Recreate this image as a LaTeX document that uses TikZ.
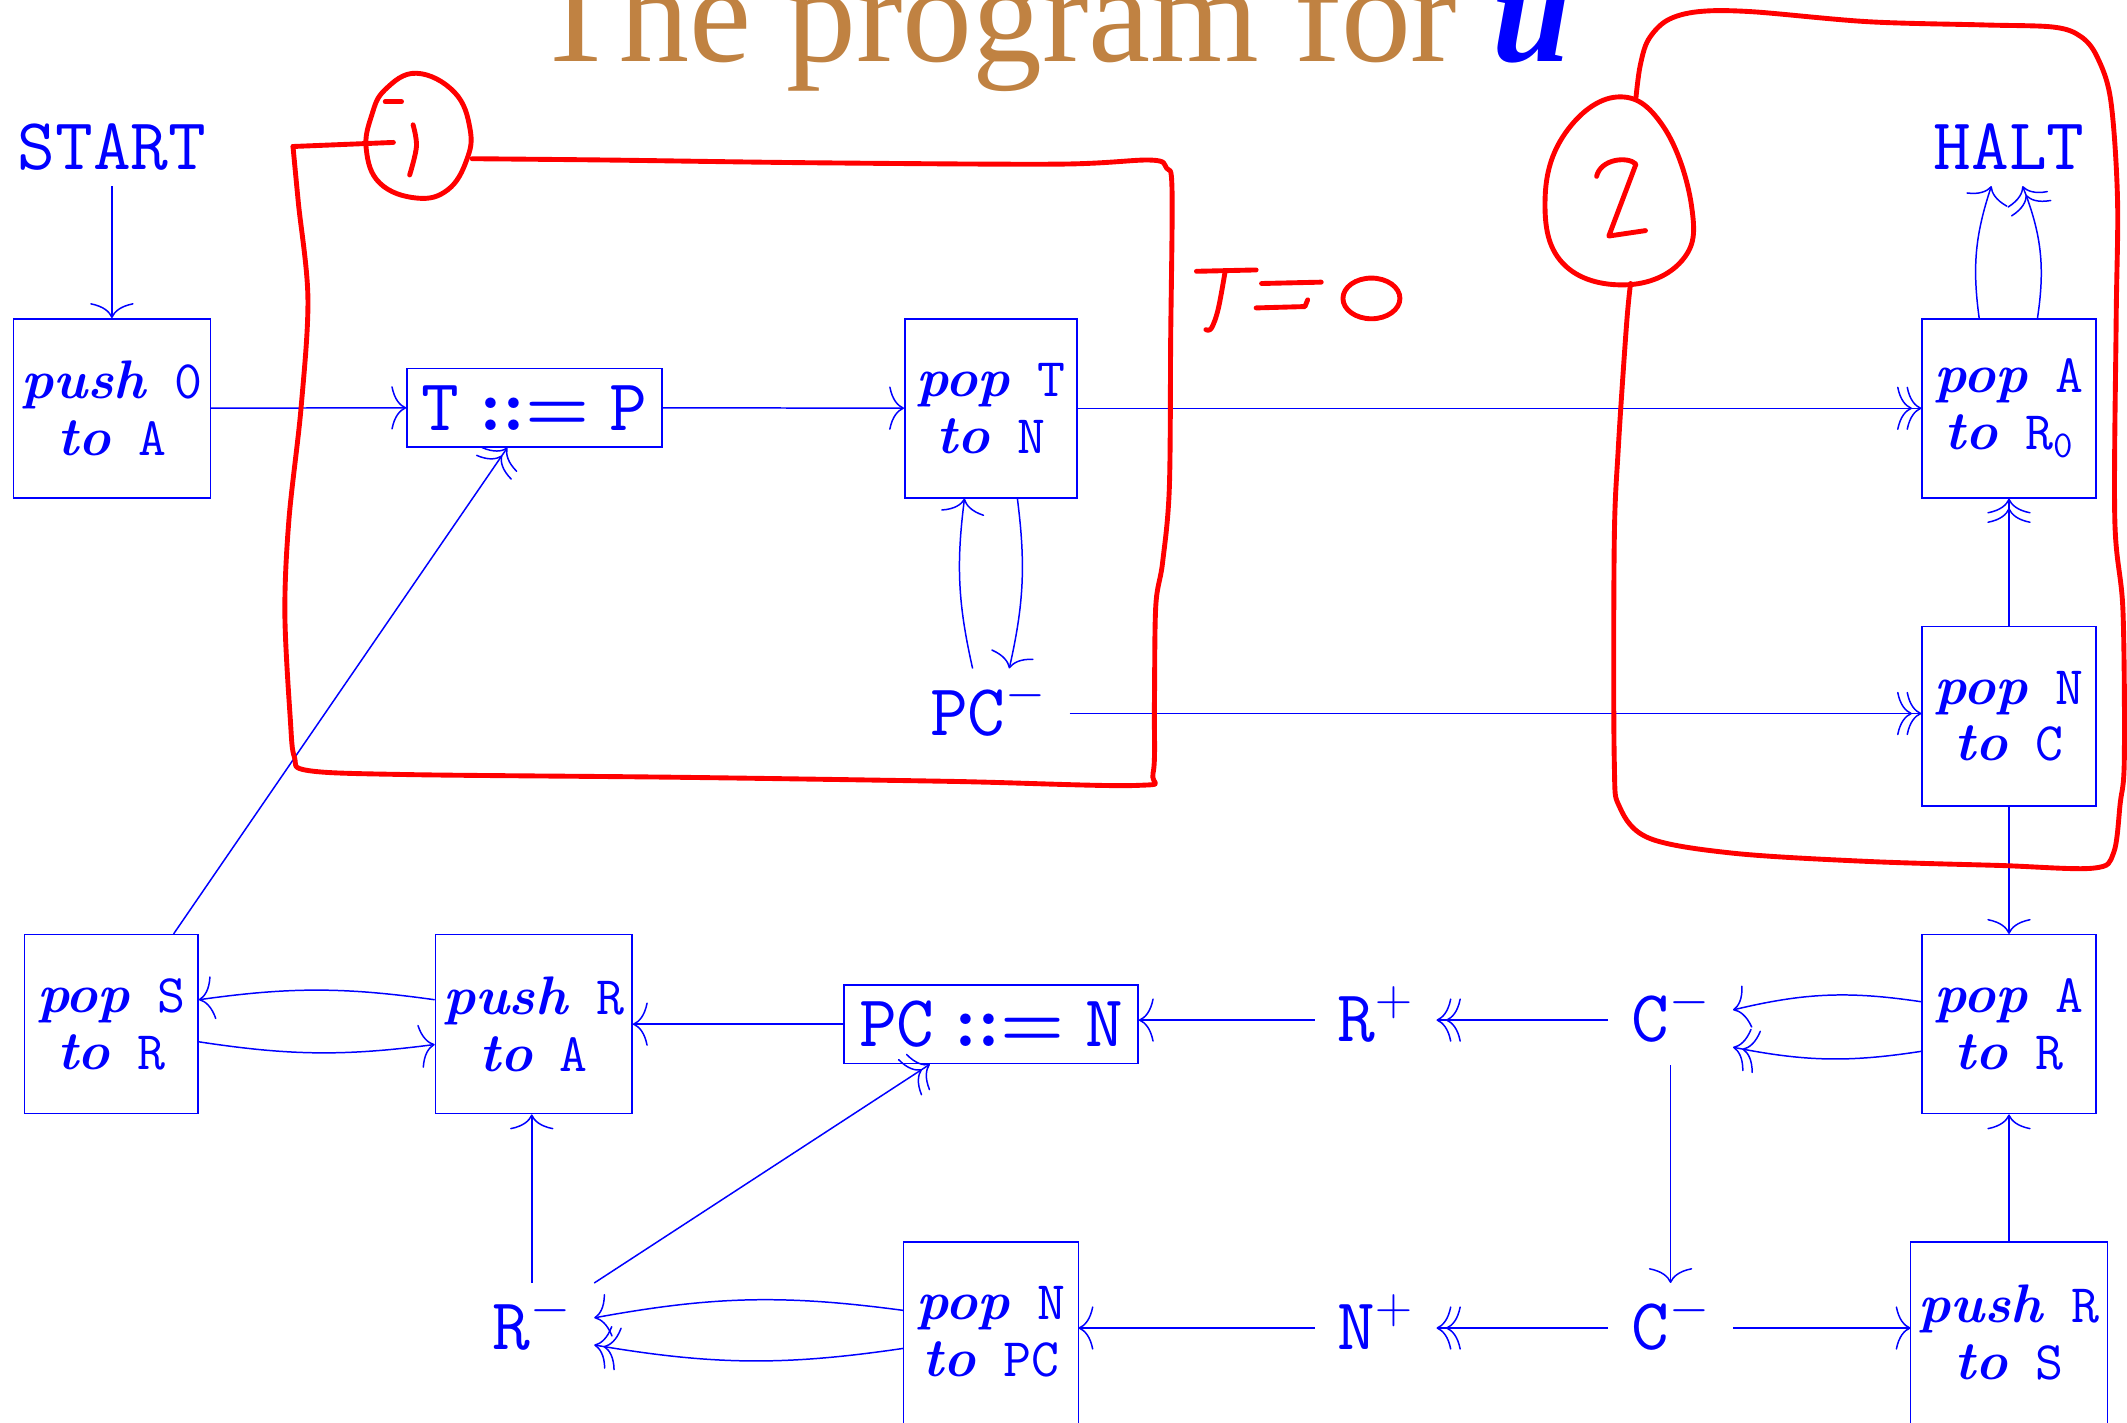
\RequirePackage{fix-cm}
\documentclass[tikz,border=0pt]{standalone}
\usepackage{fontspec}
\usetikzlibrary{arrows.meta,calc}
\newfontfamily\titlefont{Liberation Serif}
\definecolor{titlebrown}{RGB}{192,130,66}
\newcommand{\kw}[1]{\textbf{\textit{#1}}}
\newcommand{\reg}[1]{\texttt{#1}}
\newcommand{\becomes}{\mathrel{\hbox{\boldmath$::=$}}}
\newcommand{\gap}{\hspace{0.5em}}
\tikzset{
  wire/.style={draw=blue, line width=1.1pt},
  arr/.style={wire, -{To[length=11pt,width=32pt]}},
  arrr/.style={wire, -{To[length=11pt,width=32pt,sep=-4pt]To[length=11pt,width=32pt]}},
  instr/.style={draw=blue, line width=1.1pt, text=blue, minimum height=132pt,
    align=center, inner xsep=3pt, inner ysep=0pt, font=\fontsize{40}{42}\selectfont},
  openinstr/.style={instr, draw=none},
  boxline/.style={draw=blue, line width=1.1pt},
  assign/.style={draw=blue, line width=1.1pt, text=blue, minimum height=58pt,
    inner xsep=3pt, inner ysep=0pt, font=\fontsize{54}{60}\selectfont},
  lbl/.style={text=blue, anchor=base, text height=32pt, text depth=0pt,
    inner xsep=17pt, inner ysep=17pt, font=\fontsize{54}{60}\selectfont},
  endlbl/.style={lbl, inner ysep=12pt, inner xsep=12pt},
  ink/.style={draw=red, line width=3.6pt, line cap=round, line join=round},
}
\begin{document}
\begin{tikzpicture}[x=1pt, y=-1pt]
\useasboundingbox (0,0) rectangle (1568,1048.3);
\clip (0,0) rectangle (1568,1048.3);
\fill[white] (0,0) rectangle (1568,1048.3);

% heading
\node[anchor=base, inner sep=0pt, font=\titlefont\fontsize{103}{110}\selectfont] (title) at (775.5,45)
  {\textcolor{titlebrown}{The program for} \textcolor{blue}{\bfseries\itshape u}};

% end points
\node[endlbl] (start) at (82.5,125) {\reg{START}};
\node[endlbl] (halt) at (1481,125) {\reg{HALT}};

% first row
\node[instr, minimum width=145pt] (push0) at (82.5,301) {\kw{push}\gap\reg{0}\\\kw{to}\gap\reg{A}};
\node[assign, minimum width=188pt] (tp) at (394,300.5) {$\mathtt{T}\becomes\mathtt{P}$};
\node[instr, minimum width=127pt] (popT) at (730.5,301) {\kw{pop}\gap\reg{T}\\\kw{to}\gap\reg{N}};
\node[instr, minimum width=128pt] (popA0) at (1481,301) {\kw{pop}\gap\reg{A}\\\kw{to}\gap$\mathtt{R}_{\mathtt{0}}$};

% second row
\node[lbl] (pcm) at (728.5,542) {$\mathtt{PC}^-$};
\node[instr, minimum width=128pt] (popNC) at (1481,528) {\kw{pop}\gap\reg{N}\\\kw{to}\gap\reg{C}};

% third row
\node[instr, minimum width=128pt] (popSR) at (82,755) {\kw{pop}\gap\reg{S}\\\kw{to}\gap\reg{R}};
\node[instr, minimum width=145pt] (pushRA) at (393.5,755) {\kw{push}\gap\reg{R}\\\kw{to}\gap\reg{A}};
\node[assign, minimum width=217pt] (pcn) at (730.5,755) {$\mathtt{PC}\becomes\mathtt{N}$};
\node[lbl] (rplus) at (1014,768) {$\mathtt{R}^+$};
\node[lbl] (cmA) at (1231.5,768) {$\mathtt{C}^-$};
\node[instr, minimum width=128pt] (popAR) at (1481,755) {\kw{pop}\gap\reg{A}\\\kw{to}\gap\reg{R}};

% fourth row (boxes run past the lower edge)
\node[lbl] (rminus) at (392,995) {$\mathtt{R}^-$};
\node[openinstr, minimum width=128pt] (popNPC) at (730.5,982) {\kw{pop}\gap\reg{N}\\\kw{to}\gap\reg{PC}};
\node[lbl] (nplus) at (1014,995) {$\mathtt{N}^+$};
\node[lbl] (cmB) at (1231.5,995) {$\mathtt{C}^-$};
\node[openinstr, minimum width=144pt] (pushRS) at (1481,982) {\kw{push}\gap\reg{R}\\\kw{to}\gap\reg{S}};
\draw[boxline] ([yshift=-30pt]popNPC.south west) rectangle (popNPC.north east);
\draw[boxline] ([yshift=-30pt]pushRS.south west) rectangle (pushRS.north east);

% control flow
\draw[arr] (start) -- (push0);
\draw[arr] (push0) -- (tp);
\draw[arr] (tp) -- (popT);
\draw[arrr] (popT) -- (popA0);
\draw[arr] ([xshift=19.5pt]popT.south) to[bend left=10] ([xshift=15.5pt]pcm.north);
\draw[arr] ([xshift=-11.5pt]pcm.north) to[bend left=10] ([xshift=-19.5pt]popT.south);
\draw[arrr] (pcm.east) -- (pcm.east -| popNC.west);
\draw[arrr] (popNC) -- (popA0);
\draw[arr] ([xshift=-22pt]popA0.north) to[bend left=13] ([xshift=-13pt]halt.south);
\draw[arrr] ([xshift=21pt]popA0.north) to[bend right=15] ([xshift=10pt]halt.south);
\draw[arr] (popNC) -- (popAR);
\draw[arr] ([yshift=16.5pt]popAR.west) to[bend right=11] ([yshift=7.5pt]cmA.east);
\draw[arrr] ([yshift=-20pt]popAR.west) to[bend left=10] ([yshift=-20pt]cmA.east);
\draw[arrr] (cmA) -- (rplus);
\draw[arr] (rplus.west) -- (rplus.west -| pcn.east);
\draw[arr] (pcn) -- (pushRA);
\draw[arr] ([yshift=18pt]pushRA.west) to[bend right=8] ([yshift=18pt]popSR.east);
\draw[arr] ([yshift=-13pt]popSR.east) to[bend right=8] ([yshift=-15pt]pushRA.west);
\draw[arrr] ([xshift=46pt]popSR.north) -- ([xshift=-20pt]tp.south);
\draw[arr] (cmA) -- (cmB);
\draw[arrr] (cmB) -- (nplus);
\draw[arr] (nplus.west) -- (nplus.west -| popNPC.east);
\draw[arr] (cmB.east) -- (cmB.east -| pushRS.west);
\draw[arr] (pushRS.north) -- (popAR.south);
\draw[arr] ([yshift=16pt]popNPC.west) to[bend right=9] ([yshift=7.5pt]rminus.east);
\draw[arrr] ([yshift=-12pt]popNPC.west) to[bend left=9] ([yshift=-12.5pt]rminus.east);
\draw[arr] (rminus.north) -- (rminus.north |- pushRA.south);
\draw[arrr] (rminus.north east) -- ([xshift=-45pt]pcn.south);

% hand-drawn annotations: region 1
\draw[ink] plot[smooth cycle, tension=0.7] coordinates {(307,54) (335,68) (346.5,95) (344,118) (330,140) (307,146) (280,135) (270,110) (274,85) (284,66)};
\draw[ink] (284,75) -- (296,75);
\draw[ink] plot[smooth, tension=0.6] coordinates {(304.5,92) (307,108) (302,129)};
\draw[ink] (290,105) -- (216,108);
\draw[ink] plot[smooth, tension=0.55] coordinates {(216,108) (220,150) (227,220) (222,300) (213,383) (210,452) (214,530) (217,558) (227,568) (300,571) (500,573) (700,576) (838,579) (850,570) (851,520) (852,447) (857,415) (862,360) (863,250) (864,140) (860,124) (848,118) (780,121) (600,120) (450,118) (348,117)};
% T = 0
\draw[ink] (882,200) -- (926,199);
\draw[ink] plot[smooth, tension=0.6] coordinates {(903,201) (898,228) (893,242) (889,243)};
\draw[ink] (930,209) -- (974,208);
\draw[ink] (926,227) -- (962,226) -- (964,221);
\draw[ink] (1011,220) ellipse[x radius=21, y radius=15];
% region 2
\draw[ink] plot[smooth cycle, tension=0.7] coordinates {(1192,71.5) (1226,93) (1247,152) (1240,192) (1198,210) (1152,194) (1139,147) (1154,98)};
\draw[ink] (1177,130) .. controls (1180,117) and (1200,115) .. (1206,121) -- (1186,174) -- (1213,170);
\draw[ink] plot[smooth, tension=0.55] coordinates {(1206,72) (1209,49) (1215,29.5) (1229,15) (1252,8.6) (1291,8.6) (1377,16) (1463,18.4) (1514,20) (1534,27) (1546,42) (1556,74) (1561,147) (1560,236) (1559,383) (1565,450) (1566,560) (1563,592) (1558,629) (1543,640) (1474,638) (1376,635) (1278,629) (1216,618) (1194,595) (1190,560) (1190,400) (1193,330) (1199,240) (1202,209)};
\end{tikzpicture}
\end{document}
